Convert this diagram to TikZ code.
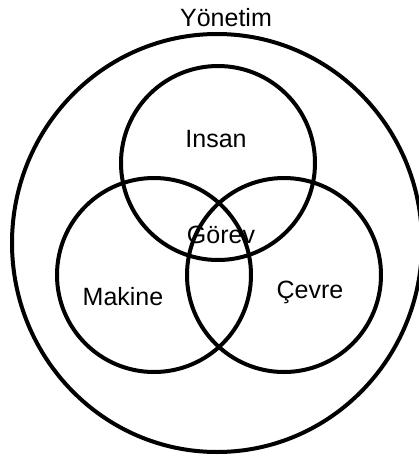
\documentclass[tikz,border=0pt]{standalone}
\usepackage{fontspec}
\setmainfont{Liberation Sans}
\usepackage{tikz}

\begin{document}
\begin{tikzpicture}[x=1pt,y=-1pt,line width=4pt]
  \tikzset{lbl/.style={font=\fontsize{25}{30}\selectfont,inner sep=0pt,anchor=base}}
  \useasboundingbox (0,0) rectangle (419,456);
  % outer ring
  \draw (217,243) ellipse [x radius=205pt,y radius=209pt];
  % the three overlapping circles
  \draw (218,163) circle [radius=97pt];
  \draw (154,275) circle [radius=97pt];
  \draw (284,275) circle [radius=97pt];
  % labels
  \node[lbl] (yonetim) at (226,26) {Yönetim};
  \node[lbl] (insan) at (216,147) {Insan};
  \node[lbl] (gorev) at (221,243) {Görev};
  \node[lbl] (makine) at (123,305) {Makine};
  \node[lbl] (cevre) at (310,298) {Çevre};
\end{tikzpicture}
\end{document}
